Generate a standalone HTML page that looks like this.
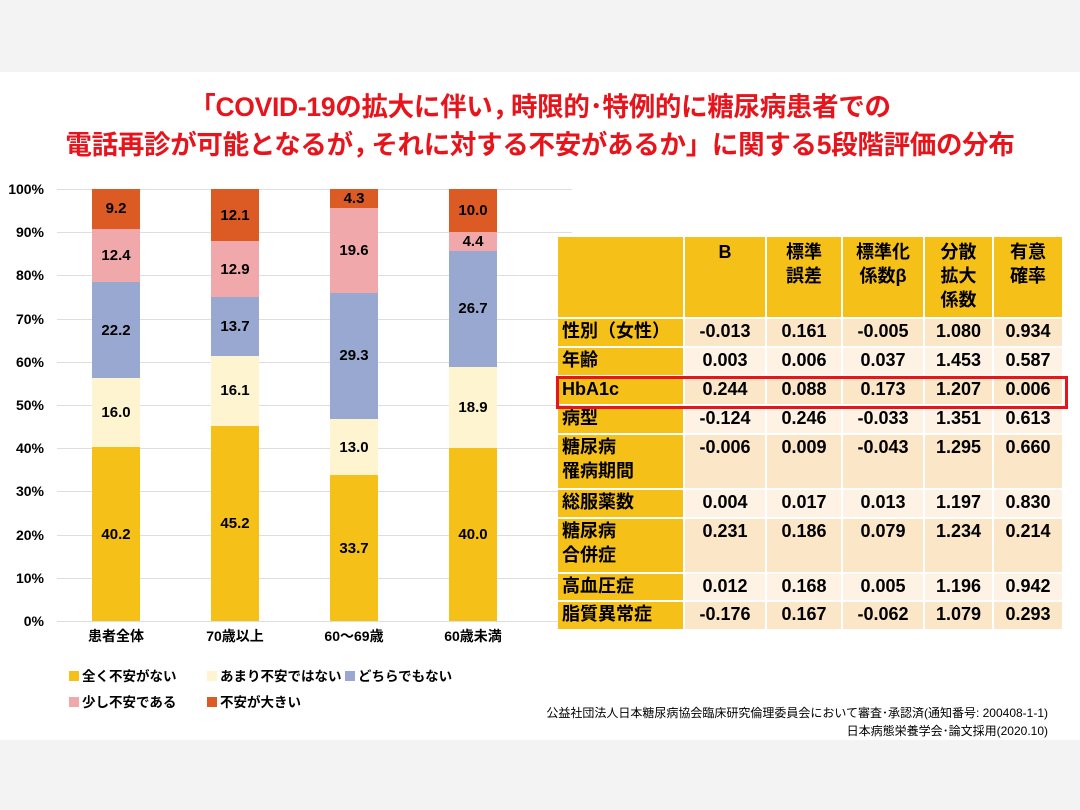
<!DOCTYPE html>
<html><head><meta charset="utf-8"><style>
body{margin:0;width:1080px;height:810px;position:relative;background:#fff;font-family:"Liberation Sans","Noto Sans CJK JP",sans-serif;overflow:hidden}
.g{position:absolute;left:0;width:1080px;background:#f3f3f3}
.title{position:absolute;left:0;width:1080px;text-align:center;color:#e8141c;font-weight:bold;font-size:26.5px;line-height:38px;top:88px;letter-spacing:-0.3px}
.title span{letter-spacing:-8px}
.yl{position:absolute;left:0;width:44px;text-align:right;font-weight:bold;font-size:14px;line-height:16px}
.gl{position:absolute;left:57px;width:515px;height:1px;background:#dedede}
.bar{position:absolute;top:189px;width:48px;height:432px;display:flex;flex-direction:column-reverse}
.bar div{display:flex;align-items:center;justify-content:center;font-weight:bold;font-size:15px}
.a{background:#f5c018}.b{background:#fef4cf}.c{background:#98a8d0}.d{background:#f0a8aa}.e{background:#dc5a24}
.cat{position:absolute;top:626px;width:120px;text-align:center;font-weight:bold;font-size:14px}
.lg{position:absolute;font-size:13.5px;font-weight:bold;line-height:18px;white-space:nowrap}
.lg i{display:inline-block;width:10px;height:10px;margin-right:3px;vertical-align:0}
table{position:absolute;left:556px;top:235px;border-collapse:separate;border-spacing:2px;font-weight:bold;font-size:18px;table-layout:fixed;width:508px}
td{padding:0;vertical-align:top;text-align:center;line-height:24px;white-space:nowrap;overflow:hidden}
td.l{background:#f5c018;text-align:left;padding-left:4px;font-size:18px}
th{background:#f5c018;font-size:18px;vertical-align:top;line-height:24px;padding:3px 0 0 0;font-weight:bold}
tr.o td{background:#fbe6c8}tr.w td{background:#fdf2e4}
tr.o td.l,tr.w td.l{background:#f5c018}
.fn{position:absolute;right:32px;font-size:12px;text-align:right}
</style></head><body>
<div class="g" style="top:0;height:72px"></div>
<div class="g" style="top:740px;height:70px"></div>
<div class="title">「COVID-19の拡大に伴い<span>，</span>時限的･特例的に糖尿病患者での<br>電話再診が可能となるが<span>，</span>それに対する不安があるか」に関する5段階評価の分布</div>

<div class="gl" style="top:189px"></div><div class="gl" style="top:232px"></div><div class="gl" style="top:275px"></div><div class="gl" style="top:319px"></div><div class="gl" style="top:362px"></div><div class="gl" style="top:405px"></div><div class="gl" style="top:448px"></div><div class="gl" style="top:491px"></div><div class="gl" style="top:535px"></div><div class="gl" style="top:578px"></div><div class="gl" style="top:621px"></div>
<div class="yl" style="top:181px">100%</div><div class="yl" style="top:224px">90%</div><div class="yl" style="top:267px">80%</div><div class="yl" style="top:311px">70%</div><div class="yl" style="top:354px">60%</div><div class="yl" style="top:397px">50%</div><div class="yl" style="top:440px">40%</div><div class="yl" style="top:483px">30%</div><div class="yl" style="top:527px">20%</div><div class="yl" style="top:570px">10%</div><div class="yl" style="top:613px">0%</div>

<div class="bar" style="left:92px"><div class="a" style="height:40.2%">40.2</div><div class="b" style="height:16%">16.0</div><div class="c" style="height:22.2%">22.2</div><div class="d" style="height:12.4%">12.4</div><div class="e" style="height:9.2%">9.2</div></div>
<div class="bar" style="left:211px"><div class="a" style="height:45.2%">45.2</div><div class="b" style="height:16.1%">16.1</div><div class="c" style="height:13.7%">13.7</div><div class="d" style="height:12.9%">12.9</div><div class="e" style="height:12.1%">12.1</div></div>
<div class="bar" style="left:330px"><div class="a" style="height:33.7%">33.7</div><div class="b" style="height:13%">13.0</div><div class="c" style="height:29.3%">29.3</div><div class="d" style="height:19.6%">19.6</div><div class="e" style="height:4.4%">4.3</div></div>
<div class="bar" style="left:449px"><div class="a" style="height:40%">40.0</div><div class="b" style="height:18.9%">18.9</div><div class="c" style="height:26.7%">26.7</div><div class="d" style="height:4.4%">4.4</div><div class="e" style="height:10%">10.0</div></div>
<div class="cat" style="left:56px">患者全体</div><div class="cat" style="left:175px">70歳以上</div><div class="cat" style="left:294px">60～69歳</div><div class="cat" style="left:413px">60歳未満</div>
<div class="lg" style="left:69px;top:668px"><i class="a"></i>全く不安がない</div>
<div class="lg" style="left:207px;top:668px"><i class="b"></i>あまり不安ではない</div>
<div class="lg" style="left:345px;top:668px"><i class="c"></i>どちらでもない</div>
<div class="lg" style="left:69px;top:694px"><i class="d"></i>少し不安である</div>
<div class="lg" style="left:207px;top:694px"><i class="e"></i>不安が大きい</div>

<table>
<colgroup><col style="width:125px"><col style="width:80px"><col style="width:74px"><col style="width:80px"><col style="width:67px"><col style="width:68px"></colgroup>
<tr style="height:80px"><th></th><th>B</th><th>標準<br>誤差</th><th>標準化<br>係数β</th><th>分散<br>拡大<br>係数</th><th>有意<br>確率</th></tr>
<tr class="o" style="height:27px"><td class="l">性別（女性）</td><td>-0.013</td><td>0.161</td><td>-0.005</td><td>1.080</td><td>0.934</td></tr>
<tr class="w" style="height:27px"><td class="l">年齢</td><td>0.003</td><td>0.006</td><td>0.037</td><td>1.453</td><td>0.587</td></tr>
<tr class="o" style="height:27px"><td class="l">HbA1c</td><td>0.244</td><td>0.088</td><td>0.173</td><td>1.207</td><td>0.006</td></tr>
<tr class="w" style="height:27px"><td class="l">病型</td><td>-0.124</td><td>0.246</td><td>-0.033</td><td>1.351</td><td>0.613</td></tr>
<tr class="o" style="height:53px"><td class="l">糖尿病<br>罹病期間</td><td>-0.006</td><td>0.009</td><td>-0.043</td><td>1.295</td><td>0.660</td></tr>
<tr class="w" style="height:27px"><td class="l">総服薬数</td><td>0.004</td><td>0.017</td><td>0.013</td><td>1.197</td><td>0.830</td></tr>
<tr class="o" style="height:53px"><td class="l">糖尿病<br>合併症</td><td>0.231</td><td>0.186</td><td>0.079</td><td>1.234</td><td>0.214</td></tr>
<tr class="w" style="height:26px"><td class="l">高血圧症</td><td>0.012</td><td>0.168</td><td>0.005</td><td>1.196</td><td>0.942</td></tr>
<tr class="o" style="height:27px"><td class="l">脂質異常症</td><td>-0.176</td><td>0.167</td><td>-0.062</td><td>1.079</td><td>0.293</td></tr>
</table>
<div style="position:absolute;left:556px;top:376px;width:506px;height:27px;border:3px solid #e8141c"></div>
<div class="fn" style="top:704px">公益社団法人日本糖尿病協会臨床研究倫理委員会において審査･承認済(通知番号: 200408-1-1)</div>
<div class="fn" style="top:722px">日本病態栄養学会･論文採用(2020.10)</div>
</body></html>
